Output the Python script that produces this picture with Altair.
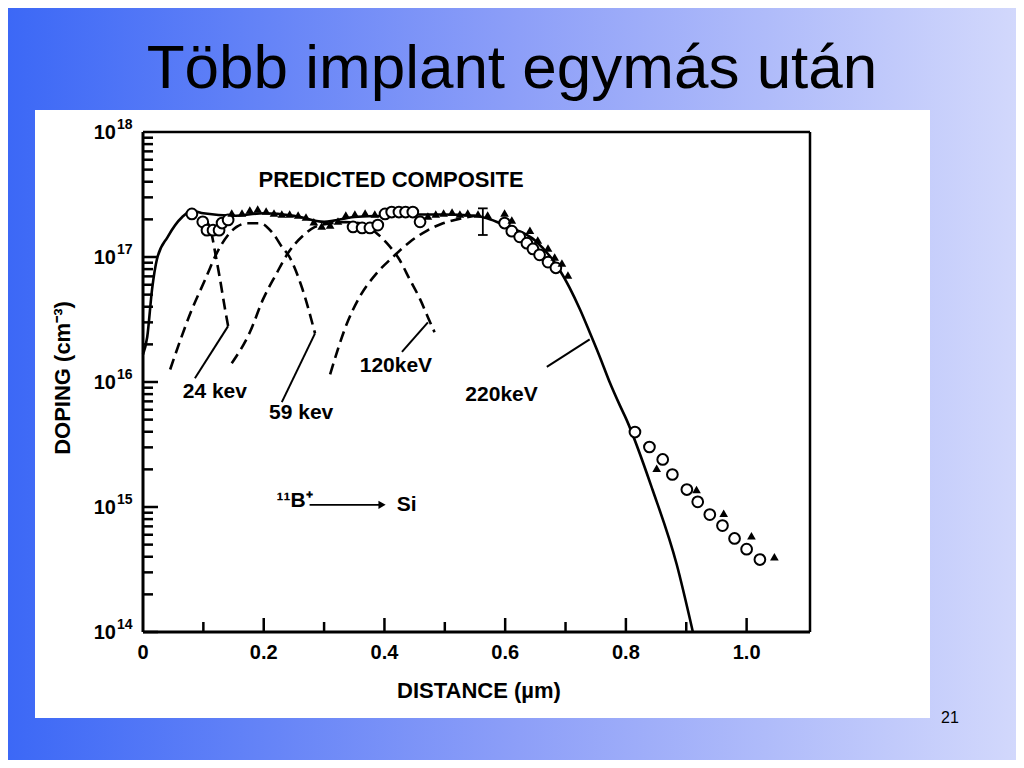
import altair as alt
import pandas as pd

# ---------------- data ----------------
# predicted composite (solid line): distance (um), doping (cm^-3)
comp_x = [0.0, 0.007, 0.015, 0.023, 0.041, 0.065, 0.081, 0.10, 0.15, 0.20, 0.25, 0.30,
          0.35, 0.40, 0.45, 0.50, 0.55, 0.57, 0.60, 0.65, 0.69, 0.724, 0.74, 0.757,
          0.773, 0.79, 0.801, 0.844, 0.884, 0.911]
comp_n = [1.66e16, 2.29e16, 5.5e16, 9.55e16, 1.45e17, 2.09e17, 2.34e17, 2.24e17, 2.14e17,
          2.24e17, 2.14e17, 1.91e17, 2.09e17, 2.14e17, 2.19e17, 2.19e17, 2.14e17, 2.04e17,
          1.78e17, 1.35e17, 7.9e16, 3.8e16, 2.5e16, 1.58e16, 1.0e16, 6.5e15, 5.0e15,
          1.38e15, 3.5e14, 1.0e14]

# individual implants (dashed, visible parts)
d24_x = [0.10, 0.113, 0.119, 0.127, 0.136, 0.141]
d24_n = [2.09e17, 1.58e17, 1.12e17, 6.9e16, 3.8e16, 2.8e16]
d59_x = [0.045, 0.081, 0.103, 0.122, 0.14, 0.155, 0.172, 0.194, 0.215, 0.232, 0.24, 0.263, 0.285]
d59_n = [1.26e16, 3.8e16, 6.6e16, 1.07e17, 1.48e17, 1.74e17, 1.86e17, 1.86e17, 1.55e17,
         1.17e17, 1.05e17, 5.75e16, 2.45e16]
d120_x = [0.147, 0.177, 0.199, 0.22, 0.24, 0.265, 0.285, 0.31, 0.335, 0.36, 0.387, 0.404,
          0.425, 0.442, 0.459, 0.472, 0.483]
d120_n = [1.41e16, 2.5e16, 4.6e16, 7.2e16, 1.07e17, 1.48e17, 1.74e17, 1.86e17, 1.9e17,
          1.86e17, 1.55e17, 1.29e17, 9.5e16, 6.6e16, 4.6e16, 3.3e16, 2.5e16]
d220_x = [0.31, 0.338, 0.359, 0.387, 0.414, 0.442, 0.470, 0.497, 0.52, 0.55]
d220_n = [1.15e16, 2.95e16, 4.8e16, 7.4e16, 1.0e17, 1.32e17, 1.62e17, 1.86e17, 2.0e17, 2.14e17]

# measured points: open circles
circ_x = [0.081, 0.099, 0.106, 0.116, 0.126, 0.131, 0.141,
          0.348, 0.363, 0.376, 0.389, 0.401, 0.412, 0.424, 0.435, 0.447, 0.459,
          0.599, 0.611, 0.624, 0.636, 0.646, 0.657, 0.671, 0.684,
          0.815, 0.839, 0.861, 0.877, 0.901, 0.919, 0.939, 0.960, 0.980, 1.000, 1.022]
circ_n = [2.21e17, 1.91e17, 1.64e17, 1.64e17, 1.64e17, 1.87e17, 1.98e17,
          1.74e17, 1.71e17, 1.71e17, 1.80e17, 2.21e17, 2.29e17, 2.29e17, 2.29e17, 2.29e17, 1.91e17,
          1.87e17, 1.61e17, 1.45e17, 1.29e17, 1.16e17, 1.04e17, 9.1e16, 8.2e16,
          3.98e15, 3.02e15, 2.40e15, 1.82e15, 1.38e15, 1.10e15, 8.7e14, 7.1e14, 5.6e14, 4.6e14, 3.8e14]

# measured points: filled triangles
tri_x = [0.147, 0.164, 0.177, 0.190, 0.204, 0.217, 0.230, 0.243, 0.257, 0.270, 0.283, 0.296,
         0.310, 0.323, 0.336, 0.351, 0.368, 0.384,
         0.472, 0.485, 0.498, 0.512, 0.525, 0.538, 0.555, 0.571,
         0.599, 0.611, 0.641, 0.654, 0.671, 0.682, 0.694, 0.704,
         0.851, 0.917, 0.962, 1.008, 1.046]
tri_n = [2.25e17, 2.25e17, 2.38e17, 2.42e17, 2.33e17, 2.25e17, 2.21e17, 2.21e17, 2.17e17,
         2.09e17, 1.91e17, 1.77e17, 1.80e17, 1.94e17, 2.17e17, 2.21e17, 2.25e17, 2.21e17,
         2.13e17, 2.21e17, 2.25e17, 2.29e17, 2.21e17, 2.25e17, 2.21e17, 2.17e17,
         2.25e17, 1.98e17, 1.64e17, 1.37e17, 1.18e17, 1.0e17, 8.95e16, 7.18e16,
         2.04e15, 1.38e15, 8.9e14, 5.9e14, 4.0e14]

# error bar
err_x = [0.563]
err_lo = [1.5e17]
err_hi = [2.45e17]
err_half = 0.008

# energy labels and their pointer lines
lab_text = ["24 kev", "59 kev", "120keV", "220keV"]
lab_x = [0.119, 0.262, 0.419, 0.594]
lab_n = [8.3e15, 5.6e15, 1.35e16, 7.9e15]
ptr_x1 = [0.141, 0.285, 0.472, 0.740]
ptr_n1 = [2.8e16, 2.45e16, 3.0e16, 2.19e16]
ptr_x2 = [0.086, 0.230, 0.429, 0.669]
ptr_n2 = [1.07e16, 6.9e15, 1.74e16, 1.32e16]

# axes
x_tick_major = [0.2, 0.4, 0.6, 0.8, 1.0]
x_tick_minor = [0.1, 0.3, 0.5, 0.7, 0.9]
x_labels = ["0", "0.2", "0.4", "0.6", "0.8", "1.0"]
x_label_vals = [0.0, 0.2, 0.4, 0.6, 0.8, 1.0]
y_tick_major = [1e14, 1e15, 1e16, 1e17]
y_tick_minor = [m * d for d in [1e14, 1e15, 1e16, 1e17] for m in [2, 3, 4, 5, 6, 7, 8, 9]]
y_label_vals = [1e14, 1e15, 1e16, 1e17, 1e18]
y_label_exp = ["14", "15", "16", "17", "18"]

# ---------------- layout ----------------
W, H = 667, 500
PL, PT = 135, 124
CW, CH = 1008, 752
PR, PB = CW - PL - W, CH - PT - H
FONT = "Liberation Sans"

xs = alt.Scale(domain=[0, 1.105], nice=False, zero=False)
ys = alt.Scale(type="log", domain=[1e14, 1e18], nice=False)
X = lambda f: alt.X(f, type="quantitative", scale=xs, axis=None)
Y = lambda f: alt.Y(f, type="quantitative", scale=ys, axis=None)
one = alt.Data(values=[{"a": 1}])

bg = alt.Chart(one).mark_rect(
    color=alt.Gradient(gradient="linear",
                       stops=[alt.GradientStop(color="#3c68f6", offset=0),
                              alt.GradientStop(color="#8c9ef8", offset=0.5),
                              alt.GradientStop(color="#d2d8fc", offset=1)],
                       x1=0, x2=1, y1=0, y2=0)
).encode(x=alt.value(-PL), x2=alt.value(CW - PL), y=alt.value(-PT), y2=alt.value(CH - PT))

paper = alt.Chart(one).mark_rect(color="white").encode(
    x=alt.value(35 - 143), x2=alt.value(930 - 143), y=alt.value(110 - 132), y2=alt.value(718 - 132))

title = alt.Chart(one).mark_text(text="Több implant egymás után", font=FONT, fontSize=62,
                                 color="black", align="center", baseline="alphabetic").encode(
    x=alt.value(512 - 143), y=alt.value(88 - 132))
pagenum = alt.Chart(one).mark_text(text="21", font=FONT, fontSize=16, color="black",
                                   align="center", baseline="middle").encode(
    x=alt.value(950 - 143), y=alt.value(718 - 132))

dashed_df = pd.concat([
    pd.DataFrame({"x": d24_x, "n": d24_n, "c": "24"}),
    pd.DataFrame({"x": d59_x, "n": d59_n, "c": "59"}),
    pd.DataFrame({"x": d120_x, "n": d120_n, "c": "120"}),
    pd.DataFrame({"x": d220_x, "n": d220_n, "c": "220"}),
])
dashed = alt.Chart(dashed_df).mark_line(color="black", strokeWidth=2.6, strokeDash=[11, 6],
                                        interpolate="monotone").encode(
    x=X("x"), y=Y("n"), detail="c:N", order="x:Q")

comp = alt.Chart(pd.DataFrame({"x": comp_x, "n": comp_n})).mark_line(
    color="black", strokeWidth=2.6, interpolate="monotone").encode(x=X("x"), y=Y("n"))

ptr = alt.Chart(pd.DataFrame({"x": ptr_x1, "n": ptr_n1, "x2": ptr_x2, "n2": ptr_n2})).mark_rule(
    color="black", strokeWidth=2).encode(x=X("x"), y=Y("n"), x2="x2", y2="n2")

err_df = pd.DataFrame({"x": err_x, "lo": err_lo, "hi": err_hi,
                       "xl": [v - err_half for v in err_x], "xr": [v + err_half for v in err_x]})
err_v = alt.Chart(err_df).mark_rule(color="black", strokeWidth=1.8).encode(x=X("x"), y=Y("lo"), y2="hi")
err_t = alt.Chart(err_df).mark_rule(color="black", strokeWidth=1.8).encode(x=X("xl"), x2="xr", y=Y("hi"))
err_b = alt.Chart(err_df).mark_rule(color="black", strokeWidth=1.8).encode(x=X("xl"), x2="xr", y=Y("lo"))

circ = alt.Chart(pd.DataFrame({"x": circ_x, "n": circ_n})).mark_point(
    shape="circle", size=115, filled=False, fill="white", fillOpacity=1, stroke="black",
    strokeWidth=2, opacity=1).encode(x=X("x"), y=Y("n"))
tri = alt.Chart(pd.DataFrame({"x": tri_x, "n": tri_n})).mark_point(
    shape="triangle-up", size=75, filled=True, color="black", opacity=1).encode(x=X("x"), y=Y("n"))

frame_l = alt.Chart(one).mark_rule(color="black", strokeWidth=3).encode(
    x=alt.value(0), y=alt.value(0), y2=alt.value(H))
frame_b = alt.Chart(one).mark_rule(color="black", strokeWidth=3).encode(
    x=alt.value(0), x2=alt.value(W), y=alt.value(H))
frame_t = alt.Chart(one).mark_rule(color="black", strokeWidth=2.5).encode(
    x=alt.value(0), x2=alt.value(W), y=alt.value(0))
frame_r = alt.Chart(one).mark_rule(color="black", strokeWidth=2.5).encode(
    x=alt.value(W), y=alt.value(0), y2=alt.value(H))

ytm = alt.Chart(pd.DataFrame({"n": y_tick_major})).mark_rule(color="black", strokeWidth=2.5).encode(
    y=Y("n"), x=alt.value(0), x2=alt.value(15))
ytn = alt.Chart(pd.DataFrame({"n": y_tick_minor})).mark_rule(color="black", strokeWidth=2.5).encode(
    y=Y("n"), x=alt.value(0), x2=alt.value(10))
xtm = alt.Chart(pd.DataFrame({"x": x_tick_major})).mark_rule(color="black", strokeWidth=2.5).encode(
    x=X("x"), y=alt.value(H), y2=alt.value(H - 14))
xtn = alt.Chart(pd.DataFrame({"x": x_tick_minor})).mark_rule(color="black", strokeWidth=2.5).encode(
    x=X("x"), y=alt.value(H), y2=alt.value(H - 10))

txt = dict(font=FONT, color="black", fontWeight="bold")
ylab = alt.Chart(pd.DataFrame({"n": y_label_vals, "e": y_label_exp})).mark_text(
    text="10", fontSize=20, align="right", baseline="middle", dy=1, **txt).encode(
    y=Y("n"), x=alt.value(-27))
yexp = alt.Chart(pd.DataFrame({"n": y_label_vals, "e": y_label_exp})).mark_text(
    fontSize=14, align="left", baseline="middle", dy=-7, **txt).encode(
    y=Y("n"), x=alt.value(-26), text="e:N")
xlab = alt.Chart(pd.DataFrame({"x": x_label_vals, "t": x_labels})).mark_text(
    fontSize=20, align="center", baseline="middle", **txt).encode(
    x=X("x"), y=alt.value(H + 21), text="t:N")
xtitle = alt.Chart(one).mark_text(text="DISTANCE (µm)", fontSize=22, align="center",
                                  baseline="middle", **txt).encode(
    x=alt.value(479 - 143), y=alt.value(691 - 132))
ytitle = alt.Chart(one).mark_text(text="DOPING (cm⁻³)", fontSize=22, align="center",
                                  baseline="middle", angle=270, **txt).encode(
    x=alt.value(63 - 143), y=alt.value(378 - 132))

labs = alt.Chart(pd.DataFrame({"x": lab_x, "n": lab_n, "t": lab_text})).mark_text(
    fontSize=21, align="center", baseline="middle", **txt).encode(x=X("x"), y=Y("n"), text="t:N")

pred = alt.Chart(pd.DataFrame({"x": [0.411], "n": [4.13e17], "t": ["PREDICTED COMPOSITE"]})).mark_text(
    fontSize=22, align="center", baseline="middle", **txt).encode(x=X("x"), y=Y("n"), text="t:N")

ion = alt.Chart(pd.DataFrame({"x": [0.221], "n": [1.12e15], "t": ["¹¹B⁺"]})).mark_text(
    fontSize=21, align="left", baseline="middle", **txt).encode(x=X("x"), y=Y("n"), text="t:N")
arrow = alt.Chart(pd.DataFrame({"x": [0.276], "x2": [0.396], "n": [1.04e15]})).mark_rule(
    color="black", strokeWidth=1.6).encode(x=X("x"), x2="x2", y=Y("n"))
arrow_head = alt.Chart(pd.DataFrame({"x": [0.396], "n": [1.04e15]})).mark_point(
    shape="triangle-right", size=70, filled=True, color="black", opacity=1).encode(x=X("x"), y=Y("n"))
si = alt.Chart(pd.DataFrame({"x": [0.4205], "n": [1.04e15], "t": ["Si"]})).mark_text(
    fontSize=21, align="left", baseline="middle", **txt).encode(x=X("x"), y=Y("n"), text="t:N")

chart = alt.layer(
    bg, paper, title, pagenum,
    dashed, comp, ptr, err_v, err_t, err_b, circ, tri,
    frame_l, frame_b, frame_t, frame_r, ytm, ytn, xtm, xtn,
    ylab, yexp, xlab, xtitle, ytitle, labs, pred, ion, arrow, arrow_head, si,
).properties(
    width=W, height=H,
    autosize=alt.AutoSizeParams(type="none"),
    padding={"left": PL, "top": PT, "right": PR, "bottom": PB},
).configure_view(strokeWidth=0)

chart.save("out.html", embed_options={"renderer": "svg", "actions": False})
